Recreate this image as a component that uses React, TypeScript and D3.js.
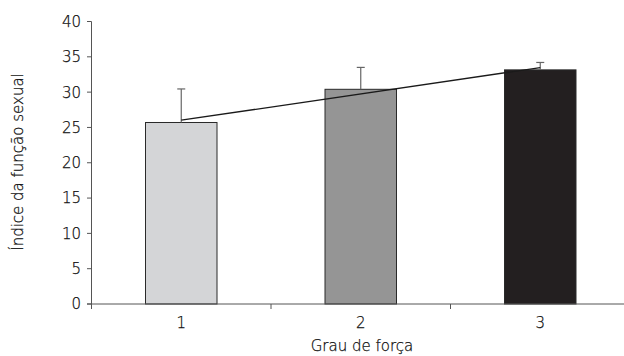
import React from 'react';
import * as d3 from 'd3';

// categories, means and upper error limits
const grades = ['1', '2', '3'];
const means = [25.7, 30.4, 33.15];
const errorTops = [30.45, 33.5, 34.2];
const barColors = ['#d4d5d7', '#959595', '#231f20'];
const yTicks = [0, 5, 10, 15, 20, 25, 30, 35, 40];

const W = 624;
const H = 356;
const FONT = '"DejaVu Sans", sans-serif';

export default function App() {
  const x = d3.scaleBand<string>().domain(grades).range([91.5, 630]).paddingInner(0).paddingOuter(0);
  const y = d3.scaleLinear().domain([0, 40]).range([304, 21.5]);

  const bw = 71.5;
  const cx = (g: string) => (x(g) as number) + x.bandwidth() / 2;

  // linear trendline through the means (least squares)
  const xs = grades.map((_, i) => i + 1);
  const mx = d3.mean(xs) as number;
  const my = d3.mean(means) as number;
  const slope =
    (d3.sum(xs, (v, i) => (v - mx) * (means[i] - my)) as number) /
    (d3.sum(xs, (v) => (v - mx) * (v - mx)) as number);
  const trend = grades.map((g, i) => [cx(g), y(my + slope * (xs[i] - mx))] as [number, number]);
  const trendPath = d3.line()([trend[0], trend[trend.length - 1]]);

  const axisColor = '#555';
  const textColor = '#111';
  const fs = 15;
  const txt = { fontFamily: FONT, fontWeight: 200, fontSize: fs, fill: textColor, stroke: textColor, strokeWidth: 0.25 };

  return (
    <svg width={W} height={H} style={{ position: 'absolute', left: 0, top: 0, background: '#fff' }}>
      {/* bars */}
      {grades.map((g, i) => (
        <rect
          key={g}
          x={cx(g) - bw / 2}
          y={y(means[i])}
          width={bw}
          height={y(0) - y(means[i])}
          fill={barColors[i]}
          stroke="#2a2a2a"
          strokeWidth={1}
        />
      ))}

      {/* upper error bars */}
      {grades.map((g, i) => (
        <g key={'e' + g} stroke="#666" strokeWidth={1.2}>
          <line x1={cx(g)} x2={cx(g)} y1={y(means[i])} y2={y(errorTops[i])} />
          <line x1={cx(g) - 4} x2={cx(g) + 4} y1={y(errorTops[i])} y2={y(errorTops[i])} />
        </g>
      ))}

      {/* trendline */}
      <path d={trendPath as string} fill="none" stroke="#1a1a1a" strokeWidth={1.3} />

      {/* y axis */}
      <line x1={91.5} x2={91.5} y1={y(40)} y2={y(0)} stroke={axisColor} />
      {yTicks.map((t) => (
        <g key={t}>
          <line x1={87} x2={91.5} y1={y(t)} y2={y(t)} stroke={axisColor} />
          <text x={81} y={y(t)} dy="0.36em" textAnchor="end" {...txt}>
            {t}
          </text>
        </g>
      ))}

      {/* x axis */}
      <line x1={87} x2={W} y1={y(0)} y2={y(0)} stroke={axisColor} />
      {grades.map((g) => (
        <line
          key={'t' + g}
          x1={x(g) as number}
          x2={x(g) as number}
          y1={y(0)}
          y2={y(0) + 5}
          stroke={axisColor}
        />
      ))}
      {grades.map((g) => (
        <text key={'l' + g} x={cx(g)} y={328} textAnchor="middle" {...txt}>
          {g}
        </text>
      ))}

      <text x={362} y={351} textAnchor="middle" {...txt}>
        Grau de força
      </text>
      <text transform={`translate(23,${162}) rotate(-90)`} textAnchor="middle" {...txt}>
        Índice da função sexual
      </text>
    </svg>
  );
}
